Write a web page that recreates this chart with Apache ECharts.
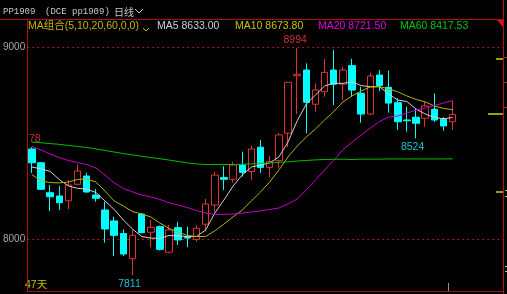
<!DOCTYPE html>
<html><head><meta charset="utf-8">
<style>html,body{margin:0;padding:0;background:#000;}#c{width:507px;height:294px;}</style>
<script src="https://cdn.jsdelivr.net/npm/echarts@6/dist/echarts.min.js"></script>
</head><body><div id="c"></div>
<script>
// ---- text ----
const symbolName = 'PP1909';
const exchangeCode = '(DCE pp1909)';
const periodName = '日线';
const maGroupLabel = 'MA组合(5,10,20,60,0,0)';
const dayCountLabel = '47天';
const slotCount = 52; // visible candle slots (47 used)

// ---- candle data (47 days) ----
const opens  = [8469,8397,8241,8224,8199,8285,8328,8229,8151,8094,8028,7897,8130,8035,8064,7931,8059,8010,7998,8077,8177,8320,8311,8385,8351,8478,8373,8408,8551,8850,8880,8702,8767,8880,8806,8903,8759,8651,8854,8790,8710,8620,8634,8629,8676,8623,8611];
const closes = [8397,8259,8220,8189,8281,8354,8245,8212,8052,8019,7922,8019,8033,8061,7946,8047,7995,8005,8056,8182,8333,8311,8385,8347,8469,8373,8403,8542,8816,8858,8712,8776,8868,8806,8880,8776,8651,8849,8800,8708,8611,8616,8603,8693,8620,8589,8649];
const lows   = [8344,8255,8146,8151,8156,8280,8240,8194,7981,7911,7911,7811,8030,7957,7940,7925,7969,7957,7986,8038,8142,8255,8293,8325,8307,8345,8321,8368,8478,8651,8551,8663,8741,8698,8724,8740,8606,8646,8770,8658,8568,8559,8524,8585,8610,8564,8568];
const highs  = [8478,8400,8281,8276,8307,8389,8344,8260,8194,8116,8050,8047,8135,8099,8070,8073,8089,8064,8073,8208,8351,8380,8403,8455,8486,8516,8432,8551,8819,8994,8915,8811,8938,8984,8896,8938,8793,8866,8880,8877,8733,8689,8678,8715,8759,8635,8720];

// ---- moving averages ----
const ma5  = [8375,8365,8352,8310,8276,8264,8260,8242,8198,8154,8099,8052,8013,8005,8003,8018,8016,8013,8013,8047,8135,8203,8276,8333,8375,8385,8396,8427,8505,8615,8703,8750,8797,8811,8811,8818,8799,8793,8793,8755,8724,8716,8677,8651,8633,8626,8633.00];
const ma10 = [8336,8302,8294,8292,8297,8310,8312,8297,8250,8198,8172,8143,8130,8115,8083,8055,8036,8018,8013,8013,8042,8078,8115,8151,8198,8245,8297,8359,8427,8484,8531,8573,8620,8663,8714,8745,8771,8792,8794,8781,8767,8745,8727,8714,8693,8680,8673.80];
const ma20 = [8482,8464,8443,8424,8409,8398,8388,8370,8333,8292,8263,8245,8229,8219,8206,8188,8177,8164,8148,8135,8128,8128,8130,8135,8141,8146,8154,8161,8182,8208,8255,8307,8359,8411,8464,8505,8542,8578,8612,8635,8641,8656,8672,8682,8695,8708,8721.50];
const ma60 = [8505,8501,8497,8493,8487,8482,8477,8469,8461,8453,8445,8438,8431,8424,8418,8411,8404,8396,8391,8388,8388,8388,8388,8389,8391,8394,8396,8399,8402,8406,8409,8412,8414,8415,8416,8414,8416,8416,8416,8417,8417,8417,8417,8417,8417,8417,8417.53];
const maNames = ['MA5','MA10','MA20','MA60'];
const maLastText = ['8633.00','8673.80','8721.50','8417.53'];
const yTicks = [8000, 9000];
const guideLevels = [9000, 8000];
// marked extremes: candle indices
const markHighIdx = 29, markLowIdx = 11, markRecentLowIdx = 42, markFirstIdx = 0;

const categories = Array.from({length: slotCount}, (_, i) => String(i + 1));
const candles = opens.map((o, i) => [o, closes[i], lows[i], highs[i]]);

const RED = '#e03434', CYAN = '#00ffff';
const maColors = ['#d0d0d0', '#b4b400', '#c800c8', '#00c000'];
const maTextColors = ['#c8d0dc', '#c8c000', '#e000e0', '#00c800'];
const GUIDE = '#b01818';

const chart = echarts.init(document.getElementById('c'), null, {renderer: 'canvas'});
const legendX = [157, 235, 318, 400];
const graphics = [
  {type:'line', shape:{x1:0,y1:19.5,x2:503,y2:19.5}, style:{stroke:'#b01010',lineWidth:1}, z:10},
  {type:'line', shape:{x1:503.5,y1:0,x2:503.5,y2:294}, style:{stroke:'#b01010',lineWidth:1}, z:10},
  {type:'polygon', shape:{points:[[497,20],[503,20],[503,27]]}, style:{fill:'#d01818'}, z:10},
  {type:'text', x:3, y:12, style:{text:symbolName, fill:'#c8c8c8', font:'9px "Liberation Mono"', textVerticalAlign:'middle'}},
  {type:'text', x:45, y:12, style:{text:exchangeCode, fill:'#c8c8c8', font:'9px "Liberation Mono"', textVerticalAlign:'middle'}},
  {type:'text', x:114, y:12, style:{text:periodName, fill:'#c8c8c8', font:'10px "Noto Sans CJK SC"', textVerticalAlign:'middle'}},
  {type:'polyline', shape:{points:[[135,9],[139,13],[143,9]]}, style:{stroke:'#c8c8c8',lineWidth:1,fill:null}},
  {type:'text', x:28, y:26.5, style:{text:maGroupLabel, fill:'#c8b400', font:'10.5px "Liberation Sans", "Noto Sans CJK SC"', textVerticalAlign:'middle'}},
  {type:'polyline', shape:{points:[[143,28],[146,31],[149,28]]}, style:{stroke:'#c8b400',lineWidth:1,fill:null}},
  {type:'text', x:25, y:285, style:{text:dayCountLabel, fill:'#c8c000', font:'10.5px "Liberation Sans", "Noto Sans CJK SC"', textVerticalAlign:'middle'}},
  // right-side level markers
  {type:'line', shape:{x1:496,y1:59,x2:503,y2:59}, style:{stroke:'#a0a000',lineWidth:2}},
  {type:'line', shape:{x1:488,y1:114,x2:503,y2:114}, style:{stroke:'#a0a000',lineWidth:2}},
  {type:'line', shape:{x1:496,y1:192,x2:503,y2:192}, style:{stroke:'#a0a000',lineWidth:2}},
  {type:'line', shape:{x1:448.5,y1:283,x2:448.5,y2:291}, style:{stroke:'#909090',lineWidth:1}},
  {type:'line', shape:{x1:504,y1:57.5,x2:507,y2:57.5}, style:{stroke:'#c02020',lineWidth:1}},
  {type:'line', shape:{x1:504,y1:82.5,x2:507,y2:82.5}, style:{stroke:'#c02020',lineWidth:1}},
  {type:'line', shape:{x1:504,y1:107.5,x2:507,y2:107.5}, style:{stroke:'#c02020',lineWidth:1}},
  {type:'line', shape:{x1:505,y1:190.5,x2:507,y2:190.5}, style:{stroke:'#c0c0c0',lineWidth:1}},
  {type:'line', shape:{x1:505,y1:196.5,x2:507,y2:196.5}, style:{stroke:'#c0c0c0',lineWidth:1}},
  {type:'line', shape:{x1:505,y1:266.5,x2:507,y2:266.5}, style:{stroke:'#c0c0c0',lineWidth:1}},
  {type:'line', shape:{x1:505,y1:271.5,x2:507,y2:271.5}, style:{stroke:'#c0c0c0',lineWidth:1}}
];
maNames.forEach((n, i) => {
  graphics.push({type:'text', x:legendX[i], y:26.5, style:{text:n + ' ' + maLastText[i], fill:maTextColors[i], font:'10.5px "Liberation Sans"', textVerticalAlign:'middle'}});
});

const markLbl = (idx, val, text, color, off) => ({
  coord:[idx, val], value: val,
  label:{show:true, formatter: text, color: color, fontSize:10.5, fontFamily:'Liberation Sans', offset: off, position:'inside'}
});

const option = {
  backgroundColor: '#000',
  animation: false,
  grid: {left: 24, right: 4, top: 19, bottom: 3, containLabel: false},
  xAxis: {
    type: 'category', data: categories, boundaryGap: true,
    axisLine: {show: true, lineStyle: {color: '#a01010'}},
    axisTick: {show: false}, axisLabel: {show: false}, splitLine: {show: false}
  },
  yAxis: {
    type: 'value', min: 7729, max: 9146, scale: true,
    axisLine: {show: true, lineStyle: {color: '#b01010'}},
    axisTick: {show: false}, splitLine: {show: false},
    axisLabel: {show: true, customValues: yTicks, formatter: v => String(v), color: '#a8a8a8', fontSize: 10, fontFamily: 'Liberation Sans', margin: 2}
  },
  graphic: graphics,
  series: [
    {
      type: 'candlestick', data: candles, barWidth: 7,
      itemStyle: {color: '#000', color0: CYAN, borderColor: RED, borderColor0: CYAN, borderWidth: 1},
      markPoint: {
        symbol: 'rect', symbolSize: 1, itemStyle: {color: 'rgba(0,0,0,0)'}, silent: true,
        data: [
          markLbl(markHighIdx, highs[markHighIdx], String(highs[markHighIdx]), '#d03030', [-2, -8]),
          markLbl(markLowIdx, lows[markLowIdx], String(lows[markLowIdx]), '#20c0d0', [-3, 9]),
          markLbl(markRecentLowIdx, lows[markRecentLowIdx], String(lows[markRecentLowIdx]), '#20c0d0', [-3.5, 8.5]),
          markLbl(markFirstIdx, highs[markFirstIdx], String(highs[markFirstIdx]).slice(-2), '#d03030', [3, -8])
        ]
      }
    },
    ...[ma5, ma10, ma20, ma60].map((d, i) => ({
      type: 'line', data: d, symbol: 'none', smooth: false, silent: true,
      lineStyle: {color: maColors[i], width: 1}
    }))
  ]
};
chart.setOption(option);

// dotted guide lines at price levels, placed through the value axis scale
const gridRect = chart.getModel().getComponent('grid').coordinateSystem.getRect();
const guideGraphics = guideLevels.map(v => {
  const y = Math.round(chart.convertToPixel({yAxisIndex: 0}, v)) + 0.5;
  return {type:'line', z: 1, shape:{x1: gridRect.x, y1: y, x2: gridRect.x + gridRect.width, y2: y},
          style:{stroke: GUIDE, lineWidth: 1, lineDash: [2, 3]}};
});
chart.setOption({graphic: graphics.concat(guideGraphics)});
</script></body></html>
